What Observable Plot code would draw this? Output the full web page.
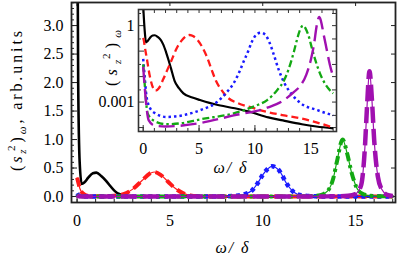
<!DOCTYPE html>
<html><head><meta charset="utf-8">
<script src="https://cdn.jsdelivr.net/npm/d3@7"></script>
<script src="https://cdn.jsdelivr.net/npm/@observablehq/plot@0.6"></script>
<style>
html,body{margin:0;padding:0;background:#fff;}
#wrap{position:relative;width:399px;height:265px;overflow:hidden;background:#fff;}
#inset{position:absolute;left:100px;top:0px;}
</style></head><body>
<div id="wrap"><div id="main"></div><div id="inset"></div></div>
<script>
// ---- data (omega/delta, spectral density) ----
const blackW  = [0.0, 0.06, 0.14, 0.25, 0.4, 0.6, 0.85, 1.04, 1.3, 1.55, 1.8, 2.05, 2.3, 2.5, 2.8, 3.2, 3.6, 4.4, 5.1, 6.5, 8.2, 9.5, 11.2, 12.5, 14.2, 15.5, 17.0];
const blackS  = [6, 2.0, 0.6, 0.22, 0.25, 0.33, 0.41, 0.42, 0.36, 0.28, 0.18, 0.09, 0.04, 0.02, 0.007, 0.0035, 0.0022, 0.0015, 0.0012, 0.0008, 0.00057, 0.00042, 0.00025, 0.00019, 0.000135, 0.00011, 0.000093];
const redW    = [0.0, 0.05, 0.15, 0.3, 0.6, 0.9, 1.1, 1.4, 1.8, 2.1, 2.5, 3.0, 3.5, 3.9, 4.15, 4.5, 4.9, 5.3, 5.7, 6.1, 6.5, 7.0, 7.5, 8.5, 9.6, 11.0, 12.6, 14.1, 15.5, 17.0];
const redS    = [0.33, 0.27, 0.14, 0.06, 0.01, 0.0035, 0.0028, 0.0035, 0.008, 0.016, 0.04, 0.13, 0.28, 0.4, 0.43, 0.38, 0.26, 0.14, 0.06, 0.02, 0.007, 0.003, 0.0016, 0.0009, 0.00063, 0.00042, 0.0003, 0.00023, 0.00016, 0.0001];
const blueW   = [0.0, 0.1, 0.3, 0.6, 1.0, 2.1, 3.5, 5.1, 6.6, 7.5, 8.1, 8.6, 9.0, 9.4, 9.7, 10.0, 10.5, 10.9, 11.3, 11.7, 12.1, 12.6, 13.3, 14.1, 15.6, 17.0];
const blueS   = [0.05, 0.015, 0.0016, 0.0006, 0.00038, 0.00026, 0.0003, 0.00048, 0.001, 0.0025, 0.0055, 0.015, 0.04, 0.1, 0.22, 0.38, 0.53, 0.45, 0.22, 0.07, 0.02, 0.006, 0.002, 0.0009, 0.00048, 0.0003];
const greenW  = [0.0, 0.1, 0.4, 1.0, 2.1, 3.5, 5.1, 8.1, 10.0, 11.1, 12.0, 12.6, 13.1, 13.5, 13.8, 14.0, 14.3, 14.55, 14.8, 15.1, 15.4, 15.8, 16.3, 17.0];
const greenS  = [0.03, 0.008, 0.00036, 0.00018, 0.000135, 0.00015, 0.00021, 0.00036, 0.0007, 0.0012, 0.003, 0.007, 0.025, 0.1, 0.32, 0.62, 1.0, 0.75, 0.4, 0.13, 0.045, 0.014, 0.005, 0.0022];
const purpleW = [0.0, 0.1, 0.5, 1.0, 2.0, 3.5, 5.1, 8.1, 11.1, 12.6, 13.5, 14.1, 14.6, 15.0, 15.3, 15.5, 15.62, 15.75, 15.88, 16.0, 16.2, 16.4, 16.7, 17.0];
const purpleS = [0.024, 0.006, 0.00019, 0.00012, 0.00011, 0.00012, 0.00015, 0.0003, 0.0006, 0.0012, 0.0025, 0.0046, 0.012, 0.045, 0.2, 0.85, 1.6, 2.2, 1.7, 1.0, 0.35, 0.13, 0.03, 0.01];

const mainXTicks = [0, 5, 10, 15];
const mainYTicks = [0, 0.5, 1.0, 1.5, 2.0, 2.5, 3.0];
const insetXTicks = [0, 5, 10, 15];
const insetYTicks = [1, 0.001];
const insetYTickLabels = ["1", "0.001"];

// ---- helpers ----
const rows = (W, S) => W.map((w, i) => ({w, s: S[i]}));
const black = rows(blackW, blackS), red = rows(redW, redS), blue = rows(blueW, blueS),
      green = rows(greenW, greenS), purple = rows(purpleW, purpleS);
const C = {black: "#000000", red: "#ff1a1a", blue: "#1a1aff", green: "#12a812", purple: "#a010b0"};
const FONT = "'Liberation Serif','Times New Roman',serif";
const range = (a, b, st) => d3.range(Math.round((b - a) / st) + 1).map(i => +(a + i * st).toFixed(6));

function ticks({xMinor, xMajor, xTop, yMinor, yMajor, yRight, pw, ph, stroke}) {
  const o = {stroke, strokeWidth: 1};
  return [
    Plot.ruleX(xMinor, {x: d => d, insetTop: ph - 3, ...o}),
    Plot.ruleX(xMajor, {x: d => d, insetTop: ph - 6, ...o}),
    Plot.ruleX(xTop, {x: d => d, insetBottom: ph - 4, ...o}),
    Plot.ruleY(yMinor, {y: d => d, insetRight: pw - 3, ...o}),
    Plot.ruleY(yMajor, {y: d => d, insetRight: pw - 6, ...o}),
    Plot.ruleY(yRight, {y: d => d, insetLeft: pw - 4, ...o})
  ];
}

// ---- main plot ----
const W = 399, H = 265, mL = 71, mR = 4, mT = 2, mB = 63;
const thin = (d, c) => Plot.line(d, {x: "w", y: "s", stroke: c, strokeWidth: 1.2, curve: "monotone-x", clip: true});
const thick = (d, c, w, dash) => Plot.line(d, {x: "w", y: "s", stroke: c, strokeWidth: w, strokeDasharray: dash, strokeLinecap: "butt", curve: "monotone-x", clip: true});

const main = Plot.plot({
  width: W, height: H, marginLeft: mL, marginRight: mR, marginTop: mT, marginBottom: mB,
  style: {fontFamily: FONT, fontSize: "16px", background: "white", color: "#000"},
  x: {domain: [-0.3, 17.15], label: null},
  y: {domain: [-0.105, 3.405], label: null},
  marks: [
    ...ticks({xMinor: range(0, 17, 1), xMajor: mainXTicks, xTop: mainXTicks,
              yMinor: range(0, 3.4, 0.1), yMajor: mainYTicks, yRight: mainYTicks,
              pw: W - mL - mR, ph: H - mT - mB, stroke: "#222"}),
    Plot.axisX({ticks: mainXTicks, tickSize: 0, tickPadding: 12, label: null, fontSize: 16, fontFamily: FONT}),
    Plot.axisY({ticks: mainYTicks, tickSize: 0, tickPadding: 8, label: null, tickFormat: d3.format(".1f"), fontSize: 16, fontFamily: FONT}),
    Plot.line(black, {x: "w", y: "s", stroke: C.black, strokeWidth: 2.6, curve: "monotone-x", clip: true}),
    thin(red, C.red), thick(red, C.red, 4, "9,5"),
    thin(blue, C.blue), thick(blue, C.blue, 4.5, "4,4"),
    thin(green, C.green), thick(green, C.green, 4, "9,4,3,4"),
    thin(purple, C.purple), thick(purple, C.purple, 4.5, "16,6"),
    Plot.frame({stroke: "#222", strokeWidth: 1.8})
  ]
});
document.getElementById("main").appendChild(main);

function sLabel(svg, x, y, suffix, len) {
  const t = d3.select(svg).append("text")
    .attr("transform", `translate(${x},${y}) rotate(-90)`)
    .attr("text-anchor", "middle").attr("font-family", FONT).attr("font-size", 16).attr("fill", "#000")
    .attr("textLength", len).attr("lengthAdjust", "spacing");
  t.append("tspan").text("(");
  t.append("tspan").attr("font-style", "italic").text("s");
  t.append("tspan").attr("font-style", "italic").attr("font-size", 11).attr("dy", 4).text("z");
  t.append("tspan").attr("font-size", 11).attr("dx", -4.5).attr("dy", -11).text("2");
  t.append("tspan").attr("dy", 7).text(")");
  t.append("tspan").attr("font-style", "italic").attr("font-size", 11).attr("dy", 4).text("ω");
  if (suffix) t.append("tspan").attr("dy", -4).text(suffix);
}
function wLabel(svg, x, y) {
  d3.select(svg).append("text").attr("x", x).attr("y", y).attr("text-anchor", "middle")
    .attr("font-family", FONT).attr("font-size", 16).attr("font-style", "italic").attr("fill", "#000")
    .attr("textLength", 33).attr("lengthAdjust", "spacing")
    .text("ω/ δ");
}
sLabel(main, 22, 101, ", arb.units", 140);
wLabel(main, 232, 253);

// ---- inset plot ----
const iW = 245, iH = 180, iL = 38, iR = 9, iT = 9, iB = 49;
const iline = (d, c, w, dash) => Plot.line(d, {x: "w", y: "s", stroke: c, strokeWidth: w, strokeDasharray: dash, strokeLinecap: "butt", curve: "monotone-x", clip: true});
const inset = Plot.plot({
  width: iW, height: iH, marginLeft: iL, marginRight: iR, marginTop: iT, marginBottom: iB,
  style: {fontFamily: FONT, fontSize: "16px", background: "transparent", color: "#000", overflow: "visible"},
  x: {domain: [-0.42, 17.3], label: null},
  y: {type: "log", domain: [7e-5, 4.3], label: null},
  marks: [
    Plot.frame({fill: "white"}),
    ...ticks({xMinor: range(0, 17, 1), xMajor: insetXTicks, xTop: range(0, 17, 1),
              yMinor: [3e-4, 3e-3, 3e-2, 3e-1, 3], yMajor: [1e-4, 1e-3, 1e-2, 1e-1, 1], yRight: [1e-4, 3e-4, 1e-3, 3e-3, 1e-2, 3e-2, 1e-1, 3e-1, 1, 3],
              pw: iW - iL - iR, ph: iH - iT - iB, stroke: "#333"}),
    Plot.axisX({ticks: insetXTicks, tickSize: 0, tickPadding: 11, label: null, fontSize: 16, fontFamily: FONT}),
    Plot.axisY({ticks: insetYTicks, tickSize: 0, tickPadding: 4, label: null, tickFormat: d => insetYTickLabels[insetYTicks.indexOf(d)], fontSize: 16, fontFamily: FONT}),
    iline(black, C.black, 2.2, null),
    iline(red, C.red, 2.3, "7,4"),
    iline(blue, C.blue, 2.5, "2.5,3"),
    iline(green, C.green, 2.3, "7,3,2.5,3"),
    iline(purple, C.purple, 2.4, "16,6"),
    Plot.frame({stroke: "#333", strokeWidth: 1.6})
  ]
});
document.getElementById("inset").appendChild(inset);
sLabel(inset, 17, 58, null, 56);
wLabel(inset, 130, 173);
</script></body></html>
